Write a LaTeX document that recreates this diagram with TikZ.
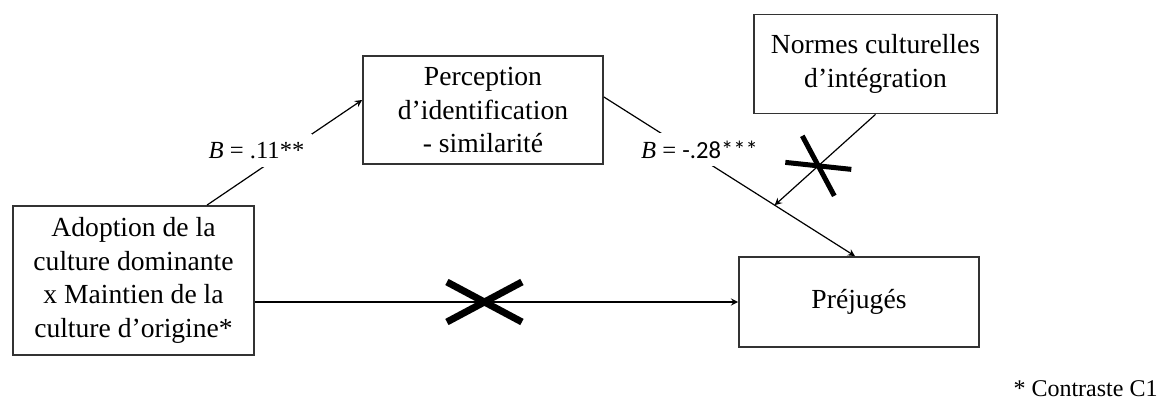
\documentclass[tikz,border=0pt]{standalone}
\usepackage{fontspec}
\setmainfont{Liberation Serif}
\newfontfamily\calibri{Carlito}
\usetikzlibrary{arrows}

\tikzstyle{box} = [rectangle, draw=black!80, line width=0.9pt, text centered, align=center, inner sep=0pt, font=\fontsize{13.8}{16.9}\selectfont]
\tikzstyle{arrow} = [line width=0.6pt, ->, >=stealth]
\tikzstyle{coef} = [fill=white, inner sep=4pt, font=\fontsize{12.3}{14}\selectfont]
\tikzstyle{cross} = [line width=3.5pt]

\begin{document}
\begin{tikzpicture}[x=0.5pt, y=-0.5pt]
\useasboundingbox (0,0) rectangle (1173,401);

\node (adopt) [box, minimum width=120.5pt, minimum height=74.5pt] at (133.5,280.5) {Adoption de la\\culture dominante\\x Maintien de la\\culture d’origine*};
\node (percep) [box, minimum width=120pt, minimum height=54pt] at (483,110) {Perception\\d’identification\\- similarité};
\node (normes) [box, minimum width=121.5pt, minimum height=49.5pt] at (875.5,64) {Normes culturelles\\d’intégration};
\node (prej) [box, minimum width=120pt, minimum height=45pt] at (859,302) {Préjugés};
\node (note) [font=\fontsize{12}{14}\selectfont] at (1085.5,389) {* Contraste C1};

\draw [arrow] ([xshift=36.75pt]adopt.north) -- node[coef, pos=0.5, xshift=-14pt, yshift=1pt] {\textit{B} = .11**} ([yshift=5pt]percep.west);
\draw [arrow] ([yshift=6.5pt]percep.east) -- coordinate[pos=0.68] (meet) node[coef, pos=0.5, xshift=-15pt, yshift=13.5pt] {\textit{B} = {\calibri -.28***}} ([xshift=-2pt]prej.north);
\draw [arrow] (normes.south) -- coordinate[pos=0.567] (cut2) (meet);
\draw [arrow] (adopt.east |- prej.west) -- coordinate[pos=0.475] (cut1) (prej.west);

% non significant paths
\draw [cross] ([shift={(-18.75pt,10pt)}]cut1) -- ([shift={(18.75pt,-10pt)}]cut1);
\draw [cross] ([shift={(-18.75pt,-10pt)}]cut1) -- ([shift={(18.75pt,10pt)}]cut1);
\draw [cross, line width=2.5pt] ([shift={(-16.5pt,1.75pt)}]cut2) -- ([shift={(16.5pt,-1.75pt)}]cut2);
\draw [cross, line width=2.5pt] ([shift={(-8pt,15pt)}]cut2) -- ([shift={(8pt,-15pt)}]cut2);

\end{tikzpicture}
\end{document}
